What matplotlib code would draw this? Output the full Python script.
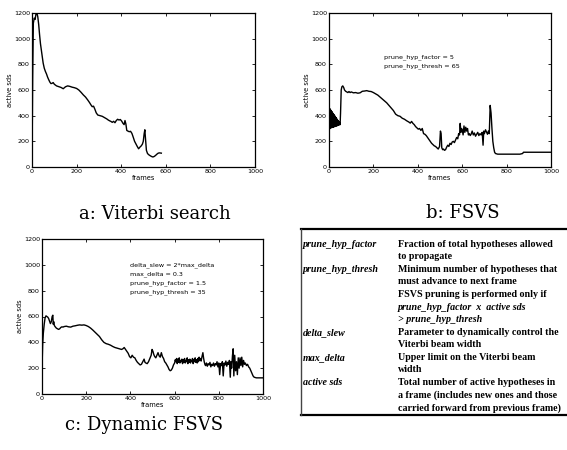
import matplotlib
matplotlib.use("Agg")
import matplotlib.pyplot as plt
from matplotlib.lines import Line2D

# ---------------- data ----------------
# a: Viterbi search
frames_a = [0, 3, 6, 10, 14, 18, 22, 26, 30, 34,
            38, 42, 46, 50, 55, 60, 65, 70, 75, 80,
            85, 90, 95, 100, 110, 120, 130, 140, 150, 160,
            170, 180, 190, 200, 210, 220, 230, 240, 250, 258,
            264, 270, 276, 282, 288, 295, 305, 315, 325, 335,
            342, 348, 354, 360, 366, 372, 378, 384, 390, 396,
            402, 408, 413, 417, 421, 425, 430, 436, 442, 448,
            454, 460, 466, 472, 478, 484, 490, 495, 499, 503,
            506, 509, 513, 518, 524, 530, 536, 542, 548, 554,
            560, 566, 572, 580]
sds_a = [0, 700, 1120, 1160, 1150, 1195, 1200, 1170, 1110, 1030,
         960, 910, 860, 810, 770, 745, 725, 700, 680, 662,
         650, 652, 658, 645, 632, 626, 620, 610, 625, 632,
         628, 622, 618, 612, 600, 582, 562, 545, 522, 502,
         485, 470, 474, 450, 422, 405, 400, 395, 385, 375,
         366, 360, 355, 348, 356, 345, 362, 372, 366, 370,
         358, 340, 330, 362, 335, 285, 280, 275, 278, 262,
         232, 200, 180, 160, 142, 155, 165, 178, 200, 260,
         290, 220, 130, 105, 95, 88, 82, 78, 82, 90,
         100, 108, 110, 108]

# b: FSVS
frames_b_start = [0, 1, 2, 3, 4, 5, 6, 7, 8, 9,
                  10, 11, 12, 13, 14, 15, 16, 17, 18, 19,
                  20, 21, 22, 23, 24, 25, 26, 27, 28, 29,
                  30, 31, 32, 33, 34, 35, 36, 37, 38, 39,
                  40, 41, 42, 43, 44, 45, 46, 47, 48, 49,
                  50]
sds_b_start = [0, 460, 300, 455, 305, 450, 300, 445, 310, 440,
               305, 435, 310, 430, 308, 425, 312, 420, 310, 415,
               315, 410, 312, 405, 318, 400, 315, 395, 320, 390,
               318, 385, 322, 380, 320, 375, 325, 370, 322, 365,
               328, 360, 325, 355, 330, 350, 328, 345, 332, 340,
               330]
frames_b_rest = [52, 55, 58, 62, 66, 70, 75, 80, 85, 90,
                 95, 100, 110, 120, 130, 140, 150, 160, 170, 180,
                 190, 200, 210, 220, 230, 240, 250, 260, 270, 280,
                 290, 300, 310, 320, 330, 340, 350, 360, 366, 372,
                 378, 384, 390, 396, 402, 408, 414, 420, 426, 432,
                 438, 444, 450, 456, 462, 468, 474, 480, 486, 492,
                 498, 502, 505, 508, 512, 516, 520, 525, 530, 535,
                 540, 545, 550, 555, 560, 565, 570, 575, 580, 584,
                 588, 591, 594, 597, 600, 604, 608, 612, 616, 620,
                 624, 628, 632, 636, 640, 645, 650, 655, 660, 665,
                 670, 675, 680, 685, 690, 694, 697, 700, 705, 710,
                 714, 718, 722, 726, 730, 734, 738, 742, 746, 750,
                 760, 780, 800, 820, 840, 860, 872, 876, 900, 1000]
sds_b_rest = [420, 600, 625, 632, 620, 600, 590, 585, 580, 588,
              580, 585, 578, 580, 575, 578, 590, 592, 595, 590,
              588, 580, 570, 560, 545, 530, 515, 500, 480, 460,
              440, 412, 400, 395, 380, 372, 360, 350, 342, 355,
              340, 330, 315, 305, 295, 300, 285, 300, 260, 255,
              245, 230, 215, 200, 185, 175, 165, 160, 150, 140,
              160, 280, 260, 150, 135, 140, 130, 135, 155, 170,
              160, 185, 175, 195, 200, 190, 210, 230, 220, 260,
              250, 340, 270, 300, 290, 250, 320, 270, 310, 280,
              300, 250, 260, 245, 255, 280, 250, 265, 240, 255,
              270, 245, 260, 250, 270, 170, 280, 260, 290, 270,
              255, 280, 260, 480, 420, 300, 200, 150, 115, 105,
              100, 100, 100, 100, 100, 100, 105, 115, 115, 115]

# c: Dynamic FSVS
frames_c_start = [0, 3, 6, 10, 14, 18, 22, 26, 30, 34,
                  38, 42, 46, 49, 51, 53, 56, 60, 65, 70,
                  75, 80, 85, 90, 95, 100, 110, 120, 130, 140,
                  150, 160, 170, 180, 190, 200, 210, 220, 230, 240,
                  250, 260, 270, 280, 290, 300, 310, 320, 330, 340,
                  350, 360, 366, 372, 378, 384, 390, 396, 402, 408,
                  414, 420, 426, 432, 438, 444, 450, 456, 462, 466,
                  470, 476, 482, 488, 494, 498, 502, 506, 510, 515,
                  520, 525, 530, 535, 540, 545, 550, 555, 560, 565,
                  570, 575, 580, 585, 590, 595]
sds_c_start = [200, 380, 470, 540, 590, 605, 600, 595, 585, 565,
               545, 560, 600, 610, 540, 560, 530, 520, 510, 505,
               500, 505, 515, 520, 518, 522, 525, 520, 518, 525,
               528, 532, 535, 533, 535, 530, 522, 510, 495, 478,
               462, 445, 420, 400, 390, 385, 378, 368, 360, 355,
               350, 345, 350, 360, 345, 330, 315, 290, 280, 300,
               285, 280, 260, 245, 235, 225, 230, 250, 270, 245,
               240, 235, 250, 275, 300, 345, 330, 305, 290, 280,
               300, 320, 295, 285, 320, 290, 275, 250, 240, 225,
               210, 190, 180, 185, 200, 225]
frames_c_mid = [600, 603, 606, 609, 612, 615, 618, 621, 624, 627,
                630, 633, 636, 639, 642, 645, 648, 651, 654, 657,
                660, 663, 666, 669, 672, 675, 678, 681, 684, 687,
                690, 693, 696, 699, 702, 705, 708, 711, 714, 717,
                720, 724, 728, 731, 734, 737]
sds_c_mid = [240, 265, 250, 275, 235, 270, 245, 280, 240, 260,
             250, 270, 235, 265, 245, 275, 240, 260, 250, 280,
             235, 265, 245, 270, 240, 260, 255, 275, 235, 265,
             250, 280, 245, 265, 240, 275, 250, 285, 260, 275,
             255, 290, 320, 280, 250, 230]
frames_c_late = [740, 744, 748, 752, 756, 760, 764, 768, 772, 776,
                 780, 784, 788, 792, 796, 800, 804, 808, 812, 816,
                 820, 824, 828, 832, 836, 840, 844, 848, 852, 855,
                 858, 862, 865, 868, 872, 876, 880, 884, 888, 892,
                 896, 900, 904, 908, 912, 916, 920, 925, 930, 935,
                 940, 945, 950, 955, 960, 970, 1000]
sds_c_late = [220, 240, 215, 235, 225, 245, 210, 230, 220, 240,
              215, 235, 225, 250, 210, 240, 150, 235, 220, 250,
              140, 240, 225, 255, 215, 245, 230, 260, 130, 250,
              200, 300, 350, 140, 300, 180, 250, 150, 280, 200,
              280, 220, 285, 210, 260, 230, 240, 220, 230, 210,
              200, 180, 160, 140, 130, 125, 125]

x_ticks = [0, 200, 400, 600, 800, 1000]
y_ticks = [0, 200, 400, 600, 800, 1000, 1200]

notes_b = ["prune_hyp_factor = 5", "prune_hyp_thresh = 65"]
notes_c = ["delta_slew = 2*max_delta", "max_delta = 0.3",
           "prune_hyp_factor = 1.5", "prune_hyp_thresh = 35"]

captions = ["a: Viterbi search", "b: FSVS", "c: Dynamic FSVS"]

table_terms = ["prune_hyp_factor", "", "prune_hyp_thresh", "", "", "", "",
               "delta_slew", "", "max_delta", "", "active sds", "", ""]
table_desc = ["Fraction of total hypotheses allowed",
              "to propagate",
              "Minimum number of hypotheses that",
              "must advance to next frame",
              "FSVS pruning is performed only if",
              "prune_hyp_factor  x  active sds",
              "> prune_hyp_thresh",
              "Parameter to dynamically control the",
              "Viterbi beam width",
              "Upper limit on the Viterbi beam",
              "width",
              "Total number of active hypotheses in",
              "a frame (includes new ones and those",
              "carried forward from previous frame)"]
desc_italic = [False, False, False, False, False, True, True,
               False, False, False, False, False, False, False]

# ---------------- figure ----------------
W, H = 567, 450
fig = plt.figure(figsize=(W / 100, H / 100), dpi=100)
fig.patch.set_facecolor('white')


def px_axes(l, t, r, b):
    return fig.add_axes([l / W, 1 - b / H, (r - l) / W, (b - t) / H])


def style(ax):
    ax.set_xlim(0, 1000)
    ax.set_ylim(0, 1200)
    ax.set_xticks(x_ticks)
    ax.set_yticks(y_ticks)
    ax.tick_params(direction='in', length=2.2, width=0.6, labelsize=4.6,
                   top=True, right=True, pad=1.5)
    for s in ax.spines.values():
        s.set_linewidth(0.9)
    ax.set_xlabel("frames", fontsize=4.8, labelpad=1)
    ax.set_ylabel("active sds", fontsize=4.8, labelpad=0.5)


LW = 1.0

ax_a = px_axes(32, 13, 255, 167)
ax_a.plot(frames_a, sds_a, color='black', lw=LW)
style(ax_a)

ax_b = px_axes(329, 13, 551, 167)
ax_b.plot(frames_b_start + frames_b_rest, sds_b_start + sds_b_rest,
          color='black', lw=LW)
style(ax_b)
for i, t in enumerate(notes_b):
    ax_b.text(248, 853 - i * 64, t, fontsize=4.6, va='center', ha='left')

ax_c = px_axes(42, 239, 263, 394)
ax_c.plot(frames_c_start + frames_c_mid + frames_c_late,
          sds_c_start + sds_c_mid + sds_c_late, color='black', lw=LW)
style(ax_c)
for i, t in enumerate(notes_c):
    ax_c.text(398, 999 - i * 69, t, fontsize=4.6, va='center', ha='left')

# captions
cap_pos = [(155, 214), (463, 213), (144, 425)]
for (cx, cy), c in zip(cap_pos, captions):
    fig.text(cx / W, 1 - cy / H, c, family='DejaVu Serif',
             fontsize=13, ha='center', va='center')

# table
tl, tr, tt, tb = 301, 566, 229, 415
fig.add_artist(Line2D([tl / W, tr / W], [1 - tt / H, 1 - tt / H],
                      color='black', lw=1.6))
fig.add_artist(Line2D([tl / W, tr / W], [1 - tb / H, 1 - tb / H],
                      color='black', lw=1.6))
fig.add_artist(Line2D([tl / W, tl / W], [1 - tt / H, 1 - tb / H],
                      color='#444444', lw=1.0))
row0, dy = 244, 12.6
for i, (term, desc, it) in enumerate(zip(table_terms, table_desc, desc_italic)):
    y = 1 - (row0 + i * dy) / H
    if term:
        fig.text(303 / W, y, term, fontsize=7.2, family='Liberation Serif',
                 style='italic', weight='bold', va='center', ha='left')
    fig.text(398 / W, y, desc, fontsize=7.2, family='Liberation Serif',
             style='italic' if it else 'normal', weight='bold',
             va='center', ha='left')

fig.savefig("out.png", dpi=100)
